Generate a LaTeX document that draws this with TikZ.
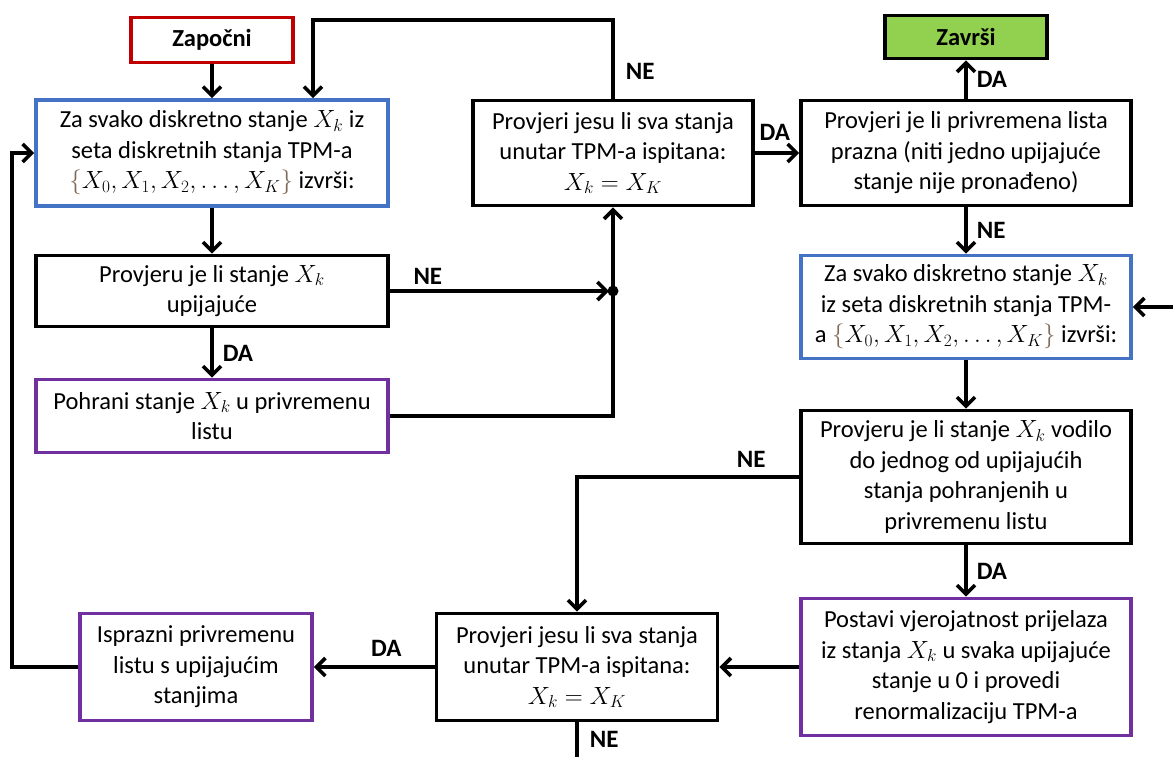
\documentclass[tikz,border=0pt]{standalone}
\usepackage{fontspec}
\setmainfont{Carlito}
\usetikzlibrary{arrows.meta}
\definecolor{crvena}{HTML}{C00000}
\definecolor{plava}{HTML}{4472C4}
\definecolor{ljubicasta}{HTML}{7030A0}
\definecolor{zelena}{HTML}{92D050}
\definecolor{zagrada}{HTML}{7F6A5A}
\newcommand{\skup}{{\color{zagrada}\{}X_0, X_1, X_2, \dots, X_K{\color{zagrada}\}}}
\tikzset{
  box/.style={draw, line width=3.8pt, align=center, inner sep=1pt,
    font=\fontsize{24.5}{30.5}\selectfont},
  arr/.style={line width=3.6pt, -{Straight Barb[length=9pt,width=18pt]}},
  lin/.style={line width=3.6pt},
  lbl/.style={font=\fontsize{25}{28}\selectfont\bfseries, inner sep=1pt}
}
\begin{document}
\begin{tikzpicture}[x=1pt,y=-1pt]
\useasboundingbox (0,0) rectangle (1173,756);
% lijevi stupac
\node[box, draw=crvena, font=\fontsize{24.5}{28}\selectfont\bfseries, minimum width=162pt, minimum height=45pt] (zap) at (212,40) {Započni};
\node[box, draw=plava, minimum width=352pt, minimum height=106pt] (b1) at (212,153)
  {Za svako diskretno stanje $X_k$ iz\\seta diskretnih stanja TPM-a\\$\skup$ izvrši:};
\node[box, minimum width=352pt, minimum height=71pt] (b2) at (212,291)
  {Provjeru je li stanje $X_k$\\upijajuće};
\node[box, draw=ljubicasta, minimum width=352pt, minimum height=73pt] (b3) at (212,416)
  {Pohrani stanje $X_k$ u privremenu\\listu};
% srednji stupac
\node[box, minimum width=280pt, minimum height=105pt] (ct) at (613,153)
  {Provjeri jesu li sva stanja\\unutar TPM-a ispitana:\\$X_k = X_K$};
\coordinate (j) at (613,291);
\coordinate (g) at (313,20);
% desni stupac
\node[box, fill=zelena, font=\fontsize{24.5}{28}\selectfont\bfseries, minimum width=162pt, minimum height=43pt] (zav) at (966,37) {Završi};
\node[box, minimum width=330pt, minimum height=105pt] (em) at (966,153)
  {Provjeri je li privremena lista\\prazna (niti jedno upijajuće\\stanje nije pronađeno)};
\node[box, draw=plava, minimum width=330pt, minimum height=103pt] (b5) at (966,307)
  {Za svako diskretno stanje $X_k$\\iz seta diskretnih stanja TPM-\\a $\skup$ izvrši:};
\node[box, minimum width=330pt, minimum height=133pt] (vod) at (966,477)
  {Provjeru je li stanje $X_k$ vodilo\\do jednog od upijajućih\\stanja pohranjenih u\\privremenu listu};
\node[box, draw=ljubicasta, minimum width=330pt, minimum height=137pt] (post) at (966,667)
  {Postavi vjerojatnost prijelaza\\iz stanja $X_k$ u svaka upijajuće\\stanje u 0 i provedi\\renormalizaciju TPM-a};
% donji red
\node[box, minimum width=281pt, minimum height=107pt] (cb) at (577,667)
  {Provjeri jesu li sva stanja\\unutar TPM-a ispitana:\\$X_k = X_K$};
\node[box, draw=ljubicasta, minimum width=232pt, minimum height=107pt] (isp) at (196,667)
  {Isprazni privremenu\\listu s upijajućim\\stanjima};
\coordinate (ulaz) at (1175,307);
\coordinate (izlaz) at (577,760);
\coordinate (lijevo) at (12,667);
% veze
\draw[arr] (zap) -- (b1);
\draw[arr] (b1) -- (b2);
\draw[arr] (b2) -- node[lbl, right=8pt] {DA} (b3);
\draw[arr, shorten >=4pt] (b2.east) -- node[lbl, above=4pt, pos=0.17] {NE} (j);
\draw[lin] (b3.east) -| (j);
\fill (j) circle (5.5pt);
\draw[arr] (j) -- (ct.south);
\draw[arr] (ct.north) |- node[lbl, pos=0.17, right=10pt] {NE} (g) -- (g |- b1.north);
\draw[arr] (ct.east) -- node[lbl, above=10pt, pos=0.45] {DA} (em.west);
\draw[arr] (em) -- node[lbl, right=8pt] {DA} (zav);
\draw[arr] (em) -- node[lbl, right=8pt] {NE} (b5);
\draw[arr] (ulaz) -- (b5.east);
\draw[arr] (b5) -- (vod);
\draw[arr] (vod) -- node[lbl, right=8pt] {DA} (post);
\draw[arr] (vod.west) -| node[lbl, pos=0.108, above=7pt] {NE} (cb.north);
\draw[arr] (post.west) -- (cb.east);
\draw[arr] (cb.west) -- node[lbl, above=8pt, pos=0.4] {DA} (isp.east);
\draw[lin] (cb.south) -- node[lbl, right=10pt, pos=0.45] {NE} (izlaz);
\draw[arr] (isp.west) -- (lijevo) |- (b1.west);
\end{tikzpicture}
\end{document}
